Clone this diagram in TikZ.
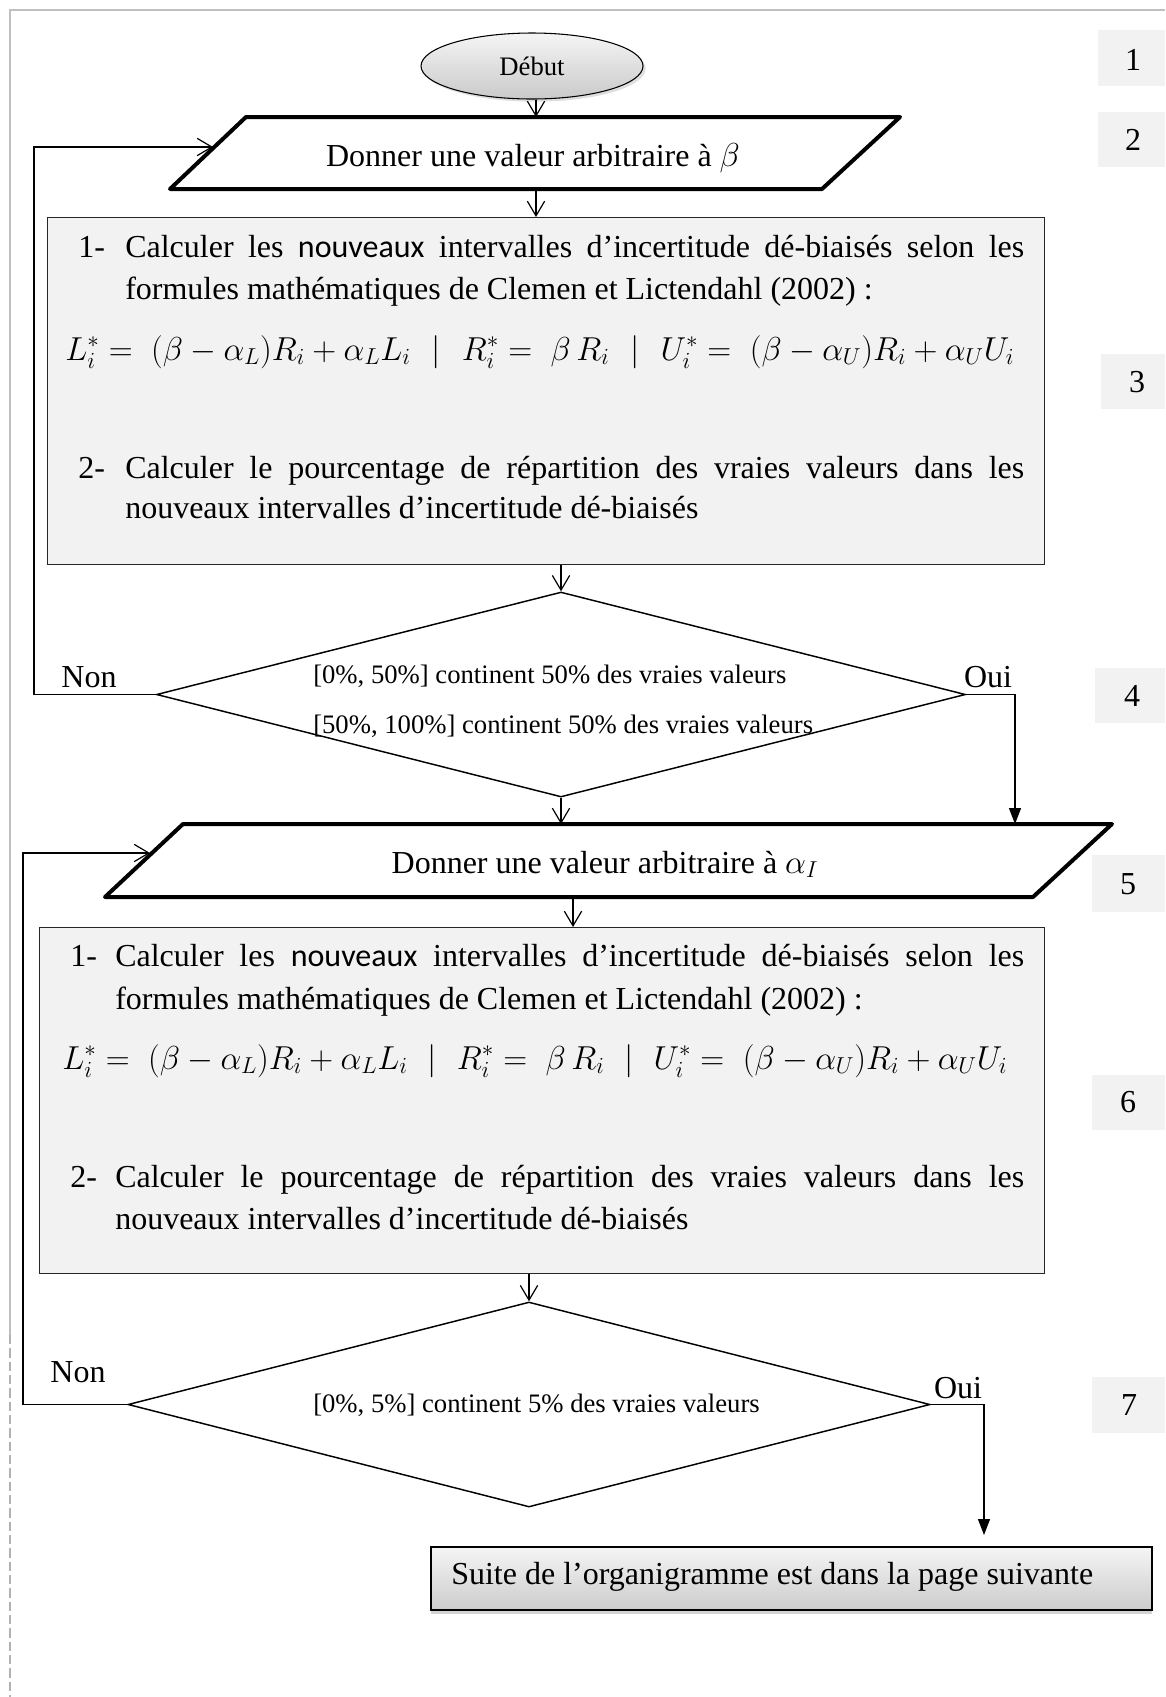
\documentclass[tikz,border=0pt]{standalone}
\usepackage{fontspec}
\setmainfont{Liberation Serif}
\newfontfamily\calib{Carlito}
\usetikzlibrary{shapes.geometric,arrows.meta,shadows}
\definecolor{boxgray}{HTML}{F2F2F2}
\tikzset{
  body/.style={font=\fontsize{24pt}{28pt}\selectfont, inner sep=0pt},
  small/.style={font=\fontsize{20pt}{24pt}\selectfont, inner sep=0pt},
  arr/.style={-{Straight Barb[length=11pt,width=13pt]}, line width=0.9pt},
  yes/.style={-{Triangle[length=12pt,width=9pt]}, line width=0.9pt},
  para/.style={line width=3pt, line join=round, fill=white},
  calcbox/.style={draw=black!85, line width=1.1pt, fill=boxgray, inner sep=0pt, anchor=north west},
  decision/.style={shape=diamond, draw, line width=1.1pt, inner sep=0pt},
  num/.style={font=\fontsize{24pt}{28pt}\selectfont, inner sep=0pt},
}
\begin{document}
\begin{tikzpicture}[x=0.75pt,y=-0.75pt]
\useasboundingbox (0,0) rectangle (1165,1697);
% page border
\draw[gray!50, line width=1.2pt] (10,1335) -- (10,10) -- (1165,10);
\draw[gray!60, line width=1.2pt, dash pattern=on 7pt off 3pt] (10,1335) -- (10,1697);

% number boxes
\fill[boxgray] (1098,30) rectangle (1165,86);
\node[num] (n1) at (1133,60) {1};
\fill[boxgray] (1098,112) rectangle (1165,167);
\node[num] (n2) at (1133,140) {2};
\fill[boxgray] (1101,354) rectangle (1165,409);
\node[num] (n3) at (1137,382) {3};
\fill[boxgray] (1095,668) rectangle (1165,723);
\node[num] (n4) at (1132,696) {4};
\fill[boxgray] (1092,855) rectangle (1165,912);
\node[num] (n5) at (1128,884) {5};
\fill[boxgray] (1092,1075) rectangle (1165,1130);
\node[num] (n6) at (1128,1102) {6};
\fill[boxgray] (1092,1377) rectangle (1165,1433);
\node[num] (n7) at (1129,1405) {7};

% start
\node[ellipse, draw, line width=0.8pt, minimum width=166.5pt, minimum height=49.5pt,
      top color=gray!8, bottom color=gray!42,
      drop shadow={opacity=0.25,shadow xshift=2pt,shadow yshift=-2pt},
      small] (debut) at (532,66) {Début};

% parallelogram 1
\draw[para] (246,117) -- (900,117) -- (822,189) -- (170,189) -- cycle;
\node[body, anchor=base] (p1) at (533,166) {Donner une valeur arbitraire à $\beta$};
\coordinate (p1top) at (536,117);
\coordinate (p1bot) at (536,189);
\coordinate (p1in) at (213,147);
\coordinate (k1) at (34,147);

% box 1
\node[calcbox, minimum width=747.75pt, minimum height=260.25pt] (b1) at (47,217) {};
\node[body, anchor=base west] (b1n1) at (78,257) {1-};
\node[body, anchor=base west] (b1l1) at (125,257) {\makebox[674.25pt][s]{Calculer les {\calib nouveaux} intervalles d’incertitude dé-biaisés selon les}};
\node[body, anchor=base west] (b1l2) at (125,299) {formules mathématiques de Clemen et Lictendahl (2002) :};
\node[body, anchor=base west] (b1f) at (65,360) {\makebox[711.75pt][s]{$L_i^* =\;(\beta - \alpha_L)R_i + \alpha_L L_i$\hfill$|$\hfill$R_i^* =\; \beta\, R_i$\hfill$|$\hfill$U_i^* =\;(\beta - \alpha_U)R_i + \alpha_U U_i$}};
\node[body, anchor=base west] (b1n2) at (78,478) {2-};
\node[body, anchor=base west] (b1l3) at (125,478) {\makebox[674.25pt][s]{Calculer le pourcentage de répartition des vraies valeurs dans les}};
\node[body, anchor=base west] (b1l4) at (125,518) {nouveaux intervalles d’incertitude dé-biaisés};

% decision 1
\node[decision, minimum width=606.75pt, minimum height=153.75pt] (d1) at (561,694.5) {};
\node[small, anchor=base west] (d1t1) at (313,683) {[0\%, 50\%] continent 50\% des vraies valeurs};
\node[small, anchor=base west] (d1t2) at (313,733) {[50\%, 100\%] continent 50\% des vraies valeurs};
\node[body, anchor=base] (non1) at (89,687) {Non};
\node[body, anchor=base] (oui1) at (988,687) {Oui};

% parallelogram 2
\draw[para] (183,824) -- (1112,824) -- (1033,897) -- (105,897) -- cycle;
\node[body, anchor=base] (p2) at (605,873) {Donner une valeur arbitraire à $\alpha_I$};
\coordinate (p2top) at (561,824);
\coordinate (p2oui) at (1015,824);
\coordinate (p2bot) at (573,897);
\coordinate (p2in) at (150,853);
\coordinate (k2) at (23,853);

% box 2
\node[calcbox, minimum width=753.75pt, minimum height=259.5pt] (b2) at (39,927) {};
\node[body, anchor=base west] (b2n1) at (70,966) {1-};
\node[body, anchor=base west] (b2l1) at (115,966) {\makebox[681.75pt][s]{Calculer les {\calib nouveaux} intervalles d’incertitude dé-biaisés selon les}};
\node[body, anchor=base west] (b2l2) at (115,1009) {formules mathématiques de Clemen et Lictendahl (2002) :};
\node[body, anchor=base west] (b2f) at (62,1069) {\makebox[708.75pt][s]{$L_i^* =\;(\beta - \alpha_L)R_i + \alpha_L L_i$\hfill$|$\hfill$R_i^* =\; \beta\, R_i$\hfill$|$\hfill$U_i^* =\;(\beta - \alpha_U)R_i + \alpha_U U_i$}};
\node[body, anchor=base west] (b2n2) at (70,1187) {2-};
\node[body, anchor=base west] (b2l3) at (115,1187) {\makebox[681.75pt][s]{Calculer le pourcentage de répartition des vraies valeurs dans les}};
\node[body, anchor=base west] (b2l4) at (115,1229) {nouveaux intervalles d’incertitude dé-biaisés};

% decision 2
\node[decision, minimum width=601.5pt, minimum height=153.75pt] (d2) at (529,1404.5) {};
\node[small, anchor=base west] (d2t) at (313,1412) {[0\%, 5\%] continent 5\% des vraies valeurs};
\node[body, anchor=base] (non2) at (78,1382) {Non};
\node[body, anchor=base] (oui2) at (958,1398) {Oui};

% final box
\node[draw, line width=1.5pt, anchor=north west, minimum width=540.75pt, minimum height=47.25pt,
      top color=gray!8, bottom color=gray!40,
      drop shadow={opacity=0.35,shadow xshift=0pt,shadow yshift=-3pt}] (suite) at (430,1546) {};
\node[body, anchor=base west] (suitet) at (451,1584) {Suite de l’organigramme est dans la page suivante};
\coordinate (suitein) at (984,1535);

% connectors
\draw[arr] (debut.south -| p1top) -- (p1top);
\draw[arr] (p1bot) -- (p1bot |- b1.north);
\draw[arr] (b1.south -| d1.north) -- (d1.north);
\draw[arr] (d1.west) -| (k1) -- (p1in);
\draw[yes] (d1.east) -| (p2oui);
\draw[arr] (d1.south) -- (p2top);
\draw[arr] (p2bot) -- (p2bot |- b2.north);
\draw[arr] (b2.south -| d2.north) -- (d2.north);
\draw[arr] (d2.west) -| (k2) -- (p2in);
\draw[yes] (d2.east) -| (suitein);
\end{tikzpicture}
\end{document}
